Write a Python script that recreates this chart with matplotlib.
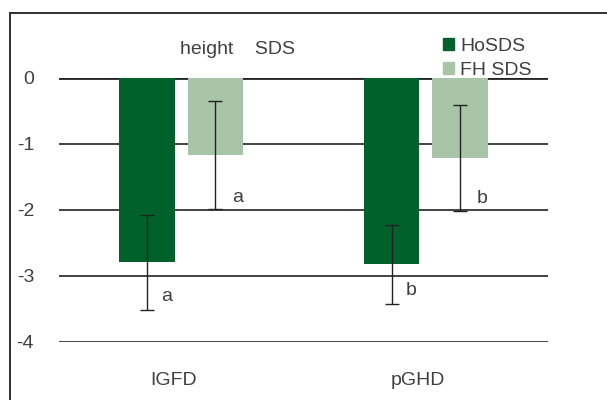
import numpy as np
import matplotlib.pyplot as plt
from matplotlib.patches import Patch, Rectangle

# data
groups = ['IGFD', 'pGHD']
series = ['HoSDS', 'FH SDS']
ho_sds = [-2.79, -2.82]
ho_err = [0.72, 0.60]
fh_sds = [-1.17, -1.21]
fh_err = [0.82, 0.80]
ho_letters = ['a', 'b']
fh_letters = ['a', 'b']
yticks = [0, -1, -2, -3, -4]

dark = '#00622a'
light = '#a8c5a8'
txt = '#404040'

plt.rcParams['font.family'] = ['Liberation Sans', 'DejaVu Sans']

fig = plt.figure(figsize=(6.07, 4.0), dpi=100)
W, H = 607, 400
# axes: gridlines from x 59 to 548, y=0 at px 78, y=-4 at px 342
ax = fig.add_axes([59 / W, 1 - 342 / H, 489 / W, 264 / H])
ax.set_xlim(0, 2)
ax.set_ylim(-4, 0)

# outer frame (only top and left edges are inside the picture), as thin filled strips
fig.add_artist(Rectangle((9 / W, 1 - 14 / H), 1 - 9 / W, 1.6 / H,
                         transform=fig.transFigure, facecolor='#333333',
                         edgecolor='none', zorder=5))
fig.add_artist(Rectangle((9 / W, 0), 1.6 / W, 1 - 12.4 / H,
                         transform=fig.transFigure, facecolor='#333333',
                         edgecolor='none', zorder=5))

for y in yticks:
    ax.axhline(y, color='#222222', lw=2.0 if y == 0 else 1.2, zorder=1)

x = np.arange(len(groups)) + 0.5
off = 0.14
w = 0.228
ax.bar(x - off, ho_sds, width=w, color=dark, zorder=2)
ax.bar(x + off, fh_sds, width=w, color=light, zorder=2)
ax.errorbar(x - off, ho_sds, yerr=ho_err, fmt='none', ecolor='#222222',
            elinewidth=1, capsize=5, capthick=1, zorder=3)
ax.errorbar(x + off, fh_sds, yerr=fh_err, fmt='none', ecolor='#222222',
            elinewidth=1, capsize=5, capthick=1, zorder=3)

for i in range(len(groups)):
    ax.text(x[i] - off + 0.08, ho_sds[i] - ho_err[i] + 0.2, ho_letters[i],
            ha='center', va='center', fontsize=14, color=txt)
    ax.text(x[i] + off + 0.09, fh_sds[i] - fh_err[i] + 0.18, fh_letters[i],
            ha='center', va='center', fontsize=14, color=txt)
    ax.text(x[i] - 0.032, -4.59, groups[i], ha='center', va='center',
            fontsize=14, color=txt, clip_on=False)

ax.set_yticks(yticks)
ax.set_yticklabels([str(t) for t in yticks], color=txt, fontsize=14)
ax.tick_params(axis='y', length=0, pad=18)
ax.set_xticks([])
for s in ax.spines.values():
    s.set_visible(False)

fig.text(237 / W, 1 - 49 / H, 'height    SDS', ha='center', va='center',
         fontsize=14, color=txt)

handles = [Patch(color=dark), Patch(color=light)]
fig.legend(handles, series, loc='upper left',
           bbox_to_anchor=(433 / W, 1 - 28 / H), frameon=False,
           fontsize=14, handlelength=0.6, handleheight=0.6,
           handletextpad=0.3, labelspacing=0.38, borderpad=0,
           labelcolor=txt)

fig.savefig('out.png', dpi=100)
